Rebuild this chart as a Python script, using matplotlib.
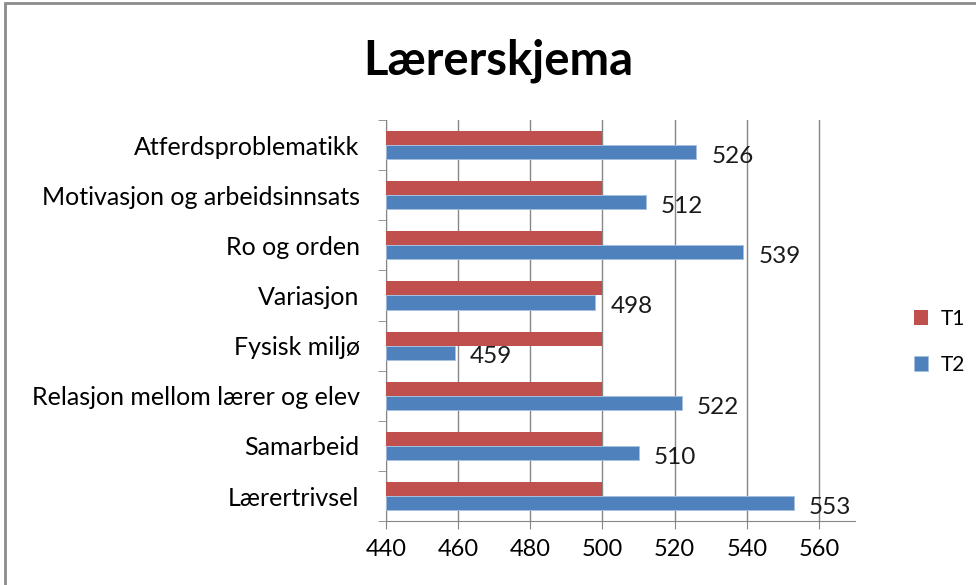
import matplotlib.pyplot as plt
import numpy as np
from matplotlib.patches import Rectangle

plt.rcParams['font.family'] = ['Lato', 'DejaVu Sans']

# data (bottom to top)
categories = ['Lærertrivsel', 'Samarbeid', 'Relasjon mellom lærer og elev',
              'Fysisk miljø', 'Variasjon', 'Ro og orden',
              'Motivasjon og arbeidsinnsats', 'Atferdsproblematikk']
t1 = [500, 500, 500, 500, 500, 500, 500, 500]
t2 = [553, 510, 522, 459, 498, 539, 512, 526]
xticks = [440, 460, 480, 500, 520, 540, 560]

red = '#C0504D'
blue = '#4F81BD'

fig = plt.figure(figsize=(9.76, 5.85), dpi=100)
ax = fig.add_axes([0.3955, 0.109, 0.4805, 0.686])

y = np.arange(len(categories))
h = 0.28
base = 440
ax.barh(y + h / 2, np.array(t1) - base, left=base, height=h, color=red,
        label='T1', zorder=3)
ax.barh(y - h / 2, np.array(t2) - base, left=base, height=h, color=blue,
        edgecolor='#a8c0e0', linewidth=0.6, label='T2', zorder=3)

for yi, v in zip(y, t2):
    ax.annotate(str(v), (v, yi - h / 2), xytext=(11, -3), textcoords='offset points',
                va='center', ha='left', fontsize=17.5, color='#1a1a1a', zorder=4)

ax.set_xlim(440, 570)
ax.set_ylim(-0.5, len(categories) - 0.5)
ax.set_xticks(xticks)
ax.set_xticklabels([str(t) for t in xticks], fontsize=17)
ax.set_yticks(y)
ax.set_yticklabels(categories, fontsize=18)
ax.set_yticks(np.arange(-0.5, len(categories)), minor=True)
ax.tick_params(axis='y', which='major', length=0, pad=19)
ax.tick_params(axis='y', which='minor', length=6, color='#868686', direction='out')
ax.tick_params(axis='x', length=6, color='#868686', direction='out', pad=7)
ax.grid(axis='x', color='#868686', linewidth=1, zorder=0)

for s in ['top', 'right']:
    ax.spines[s].set_visible(False)
for s in ['left', 'bottom']:
    ax.spines[s].set_color('#868686')

ax.legend(loc='center left', bbox_to_anchor=(1.085, 0.447), frameon=False,
          fontsize=15, handlelength=0.7, handleheight=0.7, labelspacing=1.25,
          handletextpad=0.6)

fig.text(0.511, 0.897, 'Lærerskjema', ha='center', va='center',
         fontsize=34, fontweight='bold')

# outer chart border (left and top visible)
fig.patches.append(Rectangle((0.005, -0.05), 1.2, 1.045, transform=fig.transFigure,
                             fill=False, edgecolor='#8c8c8c', linewidth=2))

plt.savefig('out.png', dpi=100)
